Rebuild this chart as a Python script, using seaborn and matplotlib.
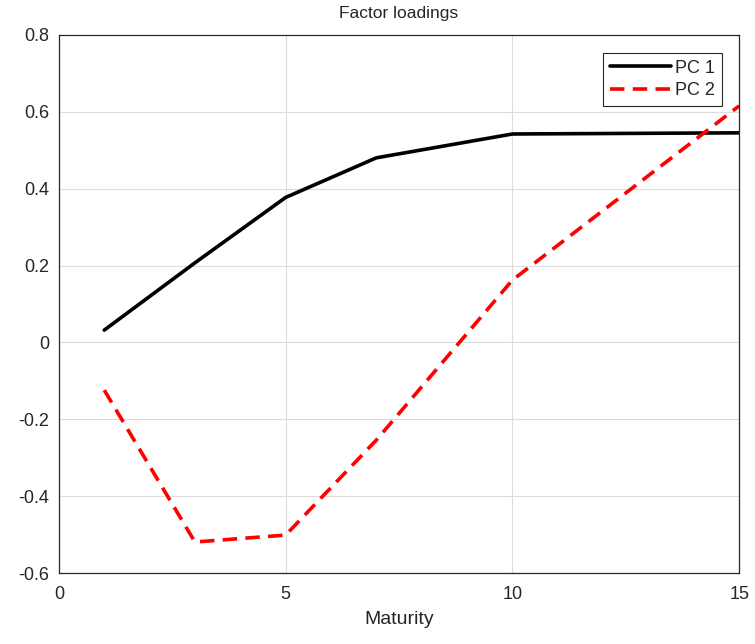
import pandas as pd
import matplotlib
matplotlib.use("Agg")
import matplotlib.pyplot as plt
import seaborn as sns

# data
maturity = [1, 3, 5, 7, 10, 15]
pc1 = [0.032, 0.207, 0.377, 0.48, 0.542, 0.545]
pc2 = [-0.124, -0.519, -0.501, -0.254, 0.162, 0.615]
series_names = ["PC 1", "PC 2"]

df = pd.DataFrame({
    "Maturity": maturity * 2,
    "loading": pc1 + pc2,
    "series": [series_names[0]] * len(maturity) + [series_names[1]] * len(maturity),
})

sns.set_style("white")
plt.rcParams['font.family'] = ['Liberation Sans', 'DejaVu Sans']

fig = plt.figure(figsize=(7.55, 6.44), dpi=100)
ax = fig.add_axes([0.078, 0.110, 0.901, 0.836])

sns.lineplot(data=df, x="Maturity", y="loading", hue="series", style="series",
             palette=["black", "red"], dashes=[(None, None), (4, 2.3)],
             linewidth=2.6, ax=ax)

ax.set_xlim(0, 15)
ax.set_ylim(-0.6, 0.8)
ax.set_xticks([0, 5, 10, 15])
ax.set_yticks([-0.6, -0.4, -0.2, 0, 0.2, 0.4, 0.6, 0.8])
ax.set_yticklabels(["-0.6", "-0.4", "-0.2", "0", "0.2", "0.4", "0.6", "0.8"])
ax.grid(True, color="#dcdcdc", linewidth=0.8)
ax.tick_params(direction="in", length=5, labelsize=13, colors="#262626", width=0.8)
ax.tick_params(axis="x", pad=9)
ax.tick_params(axis="y", pad=7)
for s in ax.spines.values():
    s.set_color("#262626")
    s.set_linewidth(0.9)
ax.set_xlabel("Maturity", fontsize=14, color="#262626", labelpad=6)
ax.set_ylabel("")
ax.set_title("Factor loadings", fontsize=12.5, color="#262626", pad=12)

leg = ax.legend(loc="upper right", bbox_to_anchor=(0.975, 0.967), fontsize=13,
                handlelength=3.4, handletextpad=0.2, borderpad=0.4,
                borderaxespad=0, fancybox=False, framealpha=1, labelspacing=0.3)
leg.get_frame().set_edgecolor("#262626")
leg.get_frame().set_linewidth(0.8)

fig.savefig("out.png", dpi=100)
